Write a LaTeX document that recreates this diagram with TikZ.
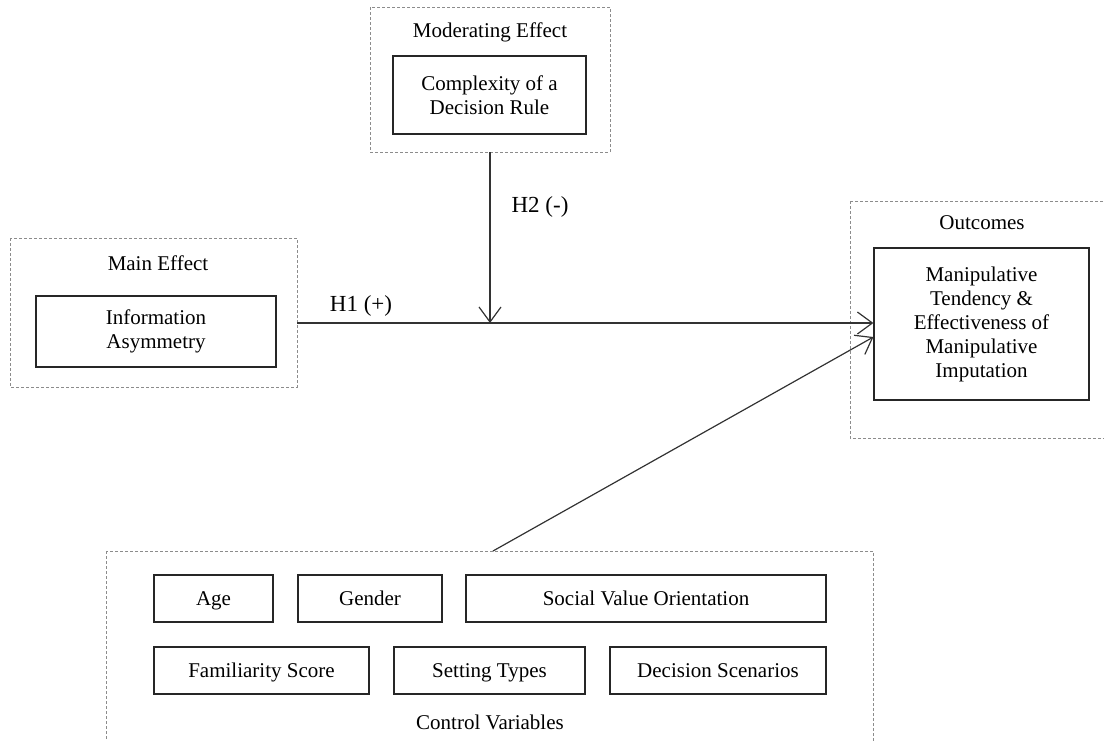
\documentclass[tikz,border=0pt]{standalone}
\usepackage{fontspec}
\setmainfont{Liberation Serif}
\usepackage{tikz}
\usetikzlibrary{calc,arrows.meta,positioning}

\tikzset{
  varbox/.style={draw=black!85,line width=0.6pt,align=center,inner sep=0pt,
    font=\fontsize{10.5}{12}\selectfont},
  onebox/.style={varbox,text height=7.4pt,text depth=0.8pt,minimum height=23.5pt},
  groupbox/.style={draw=black!45,dash pattern=on 1.5pt off 1pt,line width=0.5pt},
  grouptitle/.style={font=\fontsize{10.5}{12}\selectfont},
  hlabel/.style={font=\fontsize{11.5}{13}\selectfont},
  link/.style={draw=black!80,line width=0.6pt,-{Straight Barb[length=7.5pt,width=11pt]}}
}

\begin{document}
\begin{tikzpicture}[x=0.5pt,y=-0.5pt]
  \clip (0,0) rectangle (1104,740);
  % groups
  \draw[groupbox] (370,7) rectangle (610,152);
  \draw[groupbox] (10,238) rectangle (297,387);
  \draw[groupbox] (850,201) rectangle (1112,438);
  \draw[groupbox] (106,551) rectangle (873,750);
  \coordinate (modbot) at (490,152);
  \coordinate (h1s) at (297,323);
  \coordinate (ctrltop) at (493,551);

  \node[grouptitle] (modtitle) at (490,32) {Moderating Effect};
  \node[grouptitle] (maintitle) at (158,263) {Main Effect};
  \node[grouptitle] (outtitle) at (982,223) {Outcomes};
  \node[grouptitle] (ctrltitle) at (490,722) {Control Variables};

  % variables
  \node[varbox,minimum width=96.5pt,minimum height=39pt] (complex) at (489.5,95)
    {Complexity of a\\Decision Rule};
  \node[varbox,minimum width=120pt,minimum height=35.5pt] (asym) at (156,331.5)
    {Information\\Asymmetry};
  \node[varbox,minimum width=107.5pt,minimum height=76pt] (manip) at (981.5,324)
    {Manipulative\\Tendency \&\\Effectiveness of\\Manipulative\\Imputation};

  \node[onebox,minimum width=59.5pt] (age) at (213.5,598.5) {Age};
  \node[onebox,minimum width=72pt] (gender) at (370,598.5) {Gender};
  \node[onebox,minimum width=180pt] (svo) at (646,598.5) {Social Value Orientation};
  \node[onebox,minimum width=107.5pt] (famil) at (261.5,670.5) {Familiarity Score};
  \node[onebox,minimum width=95.5pt] (setting) at (489.5,670.5) {Setting Types};
  \node[onebox,minimum width=108pt] (scen) at (718,670.5) {Decision Scenarios};

  % paths
  \draw[link] (h1s) -- (h1s -| manip.west);
  \draw[link] (modbot) -- (modbot |- h1s);
  \draw[link] (ctrltop) -- ($(manip.west)+(0,13)$);
  \node[hlabel] (h1) at (361,306) {H1 (+)};
  \node[hlabel] (h2) at (540,207) {H2 (-)};
\end{tikzpicture}
\end{document}
